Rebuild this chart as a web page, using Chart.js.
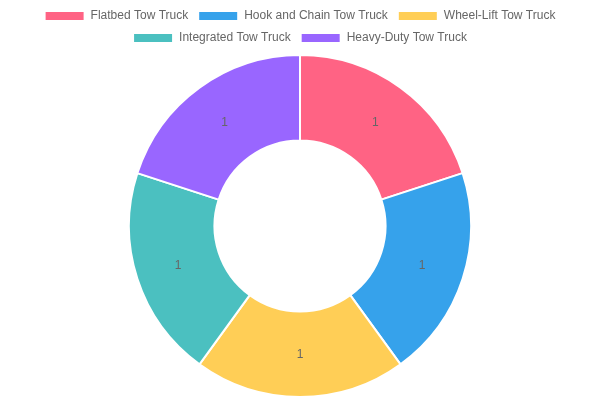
<!DOCTYPE html>
<html><head><meta charset="utf-8">
<script src="https://cdn.jsdelivr.net/npm/chart.js@4/dist/chart.umd.min.js"></script>
<style>html,body{margin:0;padding:0;background:#fff}#w{width:600px;height:400px}</style>
</head><body><div id="w"><canvas id="c"></canvas></div>
<script>
const categories = ["Flatbed Tow Truck","Hook and Chain Tow Truck","Wheel-Lift Tow Truck","Integrated Tow Truck","Heavy-Duty Tow Truck"];
const values = [1,1,1,1,1];
const colors = ["#ff6384","#36a2eb","#ffce56","#4bc0c0","#9966ff"];
const labelPlugin = {
  id:'lbl',
  afterDatasetsDraw(chart){
    const ctx=chart.ctx; const meta=chart.getDatasetMeta(0);
    ctx.save(); ctx.font='12px Arial, "Liberation Sans", sans-serif'; ctx.fillStyle='#666';
    ctx.textAlign='center'; ctx.textBaseline='middle';
    meta.data.forEach((a,i)=>{const p=a.tooltipPosition(); ctx.fillText(String(values[i]),p.x,p.y);});
    ctx.restore();
  }
};
new Chart(document.getElementById('c'),{
  type:'doughnut',
  data:{labels:categories,datasets:[{data:values,backgroundColor:colors,borderColor:'#fff',borderWidth:2}]},
  options:{responsive:true,maintainAspectRatio:false,animation:false,cutout:'50%',
    layout:{padding:{bottom:2}},
    plugins:{legend:{position:'top',labels:{font:{size:12,family:'Arial, "Liberation Sans", sans-serif'},color:'#666',boxWidth:40,boxHeight:10}},tooltip:{enabled:false}}},
  plugins:[labelPlugin]
});
</script></body></html>
